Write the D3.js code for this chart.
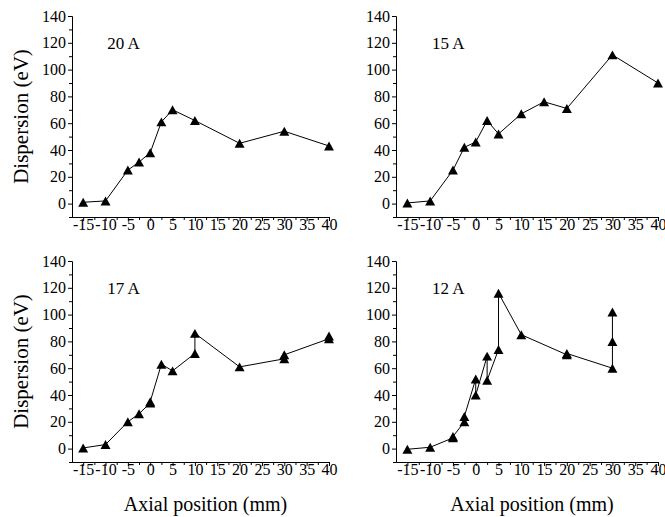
<!DOCTYPE html>
<html>
<head>
<meta charset="utf-8">
<script src="https://cdn.jsdelivr.net/npm/d3@7"></script>
<style>
  html, body { margin: 0; padding: 0; background: #fff; }
  svg { display: block; }
  text { font-family: "Liberation Serif", "Times New Roman", serif; fill: #000; }
</style>
</head>
<body>
<svg id="chart" width="665" height="517"></svg>
<script>
// Axial position ticks (mm) and dispersion ticks (eV)
const xTickValues = [-15, -10, -5, 0, 5, 10, 15, 20, 25, 30, 35, 40];
const yTickValues = [0, 20, 40, 60, 80, 100, 120, 140];

// Arc current 20 A
const axial20A = [-15, -10, -5, -2.5, 0, 2.5, 5, 10, 20, 30, 40];
const disp20A  = [1, 2, 25, 31, 38, 61, 70, 62, 45, 54, 43];

// Arc current 15 A
const axial15A = [-15, -10, -5, -2.5, 0, 2.5, 5, 10, 15, 20, 30, 40];
const disp15A  = [0.5, 2, 25, 42, 46, 62, 52, 67, 76, 71, 111, 90];

// Arc current 17 A
const axial17A = [-15, -10, -5, -2.5, 0, 0, 2.5, 5, 10, 10, 20, 30, 30, 40, 40];
const disp17A  = [0.5, 3, 20, 26, 34, 35, 63, 58, 71, 86, 61, 67, 70, 82, 84];

// Arc current 12 A
const axial12A = [-15, -10, -5, -5, -2.5, -2.5, 0, 0, 2.5, 2.5, 5, 5, 10, 20, 20, 30, 30, 30];
const disp12A  = [-0.5, 1, 8, 9, 20, 24, 52, 40, 69, 51, 74, 116, 85, 70, 71, 60, 80, 102];

const panels = [
  { name: "20 A", xs: axial20A, ys: disp20A, left: 72,  right: 329, top: 16,  bottom: 217, yTitle: true,  xTitle: false },
  { name: "15 A", xs: axial15A, ys: disp15A, left: 396, right: 658, top: 16,  bottom: 217, yTitle: false, xTitle: false },
  { name: "17 A", xs: axial17A, ys: disp17A, left: 72,  right: 329, top: 261, bottom: 462, yTitle: true,  xTitle: true },
  { name: "12 A", xs: axial12A, ys: disp12A, left: 396, right: 658, top: 261, bottom: 462, yTitle: false, xTitle: true }
];

const svg = d3.select("#chart");

// Filled triangle centred on its bounding box
const triangle = {
  draw(ctx, size) {
    const w = Math.sqrt(size * 2.2), h = w * 0.9;
    ctx.moveTo(0, -h / 2);
    ctx.lineTo(w / 2, h / 2);
    ctx.lineTo(-w / 2, h / 2);
    ctx.closePath();
  }
};
const marker = d3.symbol().type(triangle).size(45);

panels.forEach(p => {
  const g = svg.append("g");
  const x = d3.scaleLinear().domain([-17.5, 40]).range([p.left, p.right]);
  const y = d3.scaleLinear().domain([-10, 140]).range([p.bottom, p.top]);

  // minor ticks
  const xMinor = d3.range(-15, 40.1, 2.5).filter(v => !xTickValues.includes(v));
  const yMinor = d3.range(-10, 140.1, 10).filter(v => !yTickValues.includes(v));

  g.append("g")
    .attr("transform", `translate(0,${p.bottom})`)
    .call(d3.axisBottom(x).tickValues(xMinor).tickSize(3).tickSizeOuter(0).tickFormat(""));
  g.append("g")
    .attr("transform", `translate(${p.left},0)`)
    .call(d3.axisLeft(y).tickValues(yMinor).tickSize(3).tickSizeOuter(0).tickFormat(""));

  const xa = g.append("g")
    .attr("transform", `translate(0,${p.bottom})`)
    .call(d3.axisBottom(x).tickValues(xTickValues).tickSize(4).tickSizeOuter(0).tickPadding(2)
      .tickFormat(d => String(d)));
  const ya = g.append("g")
    .attr("transform", `translate(${p.left},0)`)
    .call(d3.axisLeft(y).tickValues(yTickValues).tickSize(4).tickSizeOuter(0).tickPadding(2)
      .tickFormat(d => String(d)));

  g.selectAll(".domain, .tick line").attr("stroke", "#000").attr("stroke-width", 1);
  [xa, ya].forEach(a => a.selectAll("text")
    .style("font-family", '"Liberation Serif", serif')
    .style("font-size", "16px")
    .attr("fill", "#000"));
  xa.selectAll("text").attr("y", 2).attr("dy", "0.71em");

  // connecting line
  const pts = p.xs.map((v, i) => [v, p.ys[i]]);
  g.append("path")
    .datum(pts)
    .attr("fill", "none")
    .attr("stroke", "#000")
    .attr("stroke-width", 1)
    .attr("d", d3.line().x(d => x(d[0])).y(d => y(d[1])));

  g.selectAll(".pt")
    .data(pts)
    .join("path")
    .attr("class", "pt")
    .attr("fill", "#000")
    .attr("transform", d => `translate(${x(d[0])},${y(d[1])})`)
    .attr("d", marker);

  // current label
  g.append("text")
    .attr("x", x(-9.6))
    .attr("y", y(119) + 5)
    .style("font-size", "17px")
    .text(p.name);

  if (p.yTitle) {
    g.append("text")
      .attr("transform", `translate(28,${(p.top + p.bottom) / 2}) rotate(-90)`)
      .attr("text-anchor", "middle")
      .style("font-size", "21px")
      .text("Dispersion (eV)");
  }
  if (p.xTitle) {
    g.append("text")
      .attr("x", (p.left + p.right) / 2 + 5)
      .attr("y", 511)
      .attr("text-anchor", "middle")
      .style("font-size", "20px")
      .text("Axial position (mm)");
  }
});
</script>
</body>
</html>
